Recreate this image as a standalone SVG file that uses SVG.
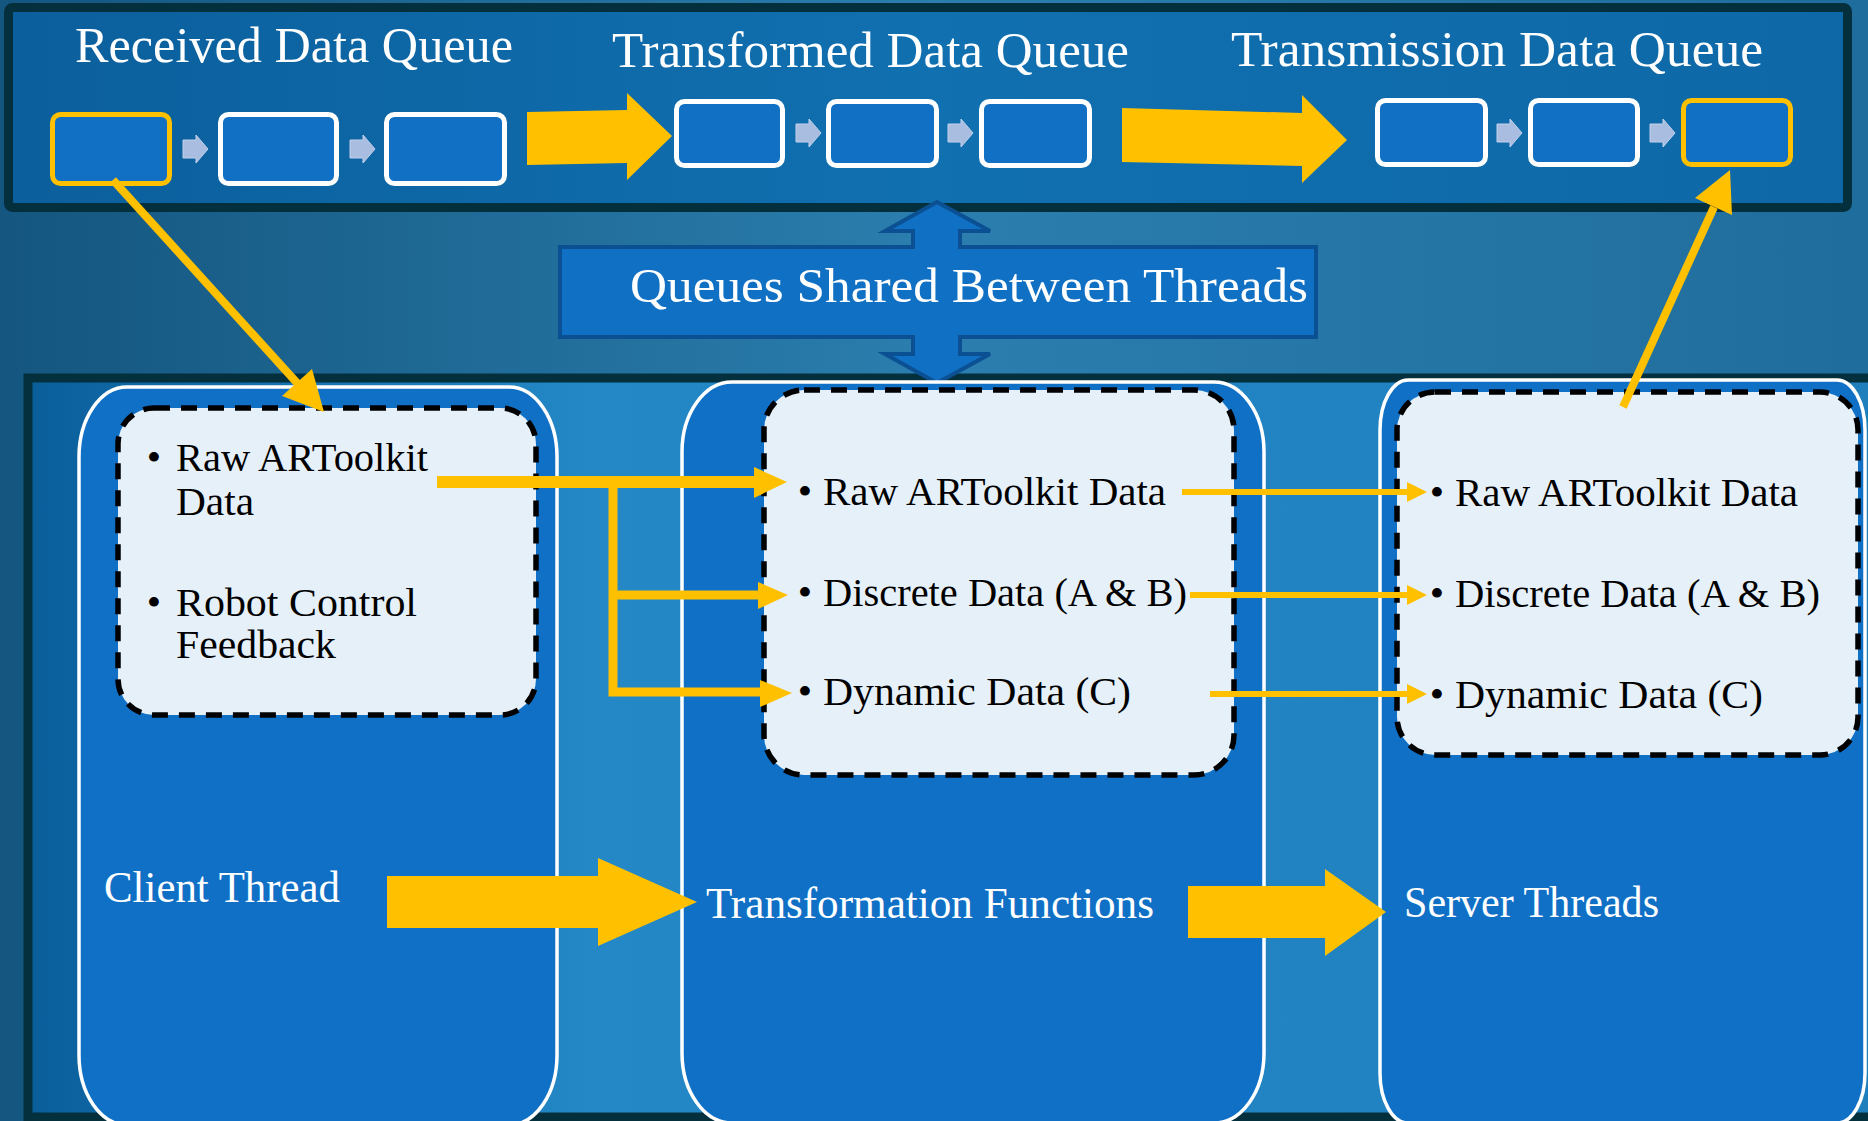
<svg xmlns="http://www.w3.org/2000/svg" xmlns:xlink="http://www.w3.org/1999/xlink" width="1868" height="1121" viewBox="0 0 1868 1121">
<defs>
<linearGradient id="bg" x1="0" y1="0" x2="1" y2="0">
<stop offset="0" stop-color="#14567f"/><stop offset="0.5" stop-color="#2b7eae"/><stop offset="1" stop-color="#1f6d9d"/>
</linearGradient>
<linearGradient id="topfill" x1="0" y1="0" x2="1" y2="0">
<stop offset="0" stop-color="#0b5f9c"/><stop offset="0.5" stop-color="#1170b0"/><stop offset="1" stop-color="#0e68a7"/>
</linearGradient>
<linearGradient id="botfill" x1="0" y1="0" x2="1" y2="0">
<stop offset="0" stop-color="#0a5f9b"/><stop offset="0.3" stop-color="#2488c6"/><stop offset="1" stop-color="#1f7fbd"/>
</linearGradient>
<path id="sa" d="M0,-9 H13 V-14 L25,0 L13,14 V9 H0 Z"/>
<style>
.panel{stroke:#04303e;stroke-width:9}
.qbox{fill:#1170c4;stroke:#fff;stroke-width:5}
.qbox.hl{stroke:#ffc000}
.sarrow{fill:#a9bde0;stroke:#c3d1ec;stroke-width:1}
.col{fill:#1070c6;stroke:#fff;stroke-width:3.5}
.dbox{fill:#e6f0f9;stroke:#000;stroke-width:5.5;stroke-dasharray:16 11}
.yfill{fill:#ffc000}
.yline{stroke:#ffc000;fill:none}
text{font-family:"Liberation Serif","Times New Roman",serif}
.title{fill:#fff;font-size:51px}
.qs{fill:#fff;font-size:48px}
.item{fill:#000;font-size:41px}
.lbl{fill:#fff;font-size:44px}
</style>
</defs>
<rect x="0" y="0" width="1868" height="1121" fill="url(#bg)"/>

<g id="top-panel">
<rect class="panel" x="8.5" y="7.5" width="1839" height="200" rx="4" fill="url(#topfill)"/>
<text class="title" x="75" y="62" textLength="438" lengthAdjust="spacingAndGlyphs">Received Data Queue</text>
<text class="title" x="612" y="67" textLength="517" lengthAdjust="spacingAndGlyphs">Transformed Data Queue</text>
<text class="title" x="1231" y="66" textLength="532" lengthAdjust="spacingAndGlyphs">Transmission Data Queue</text>
</g>

<g id="received-queue">
<rect class="qbox hl" x="52.5" y="114.5" width="117" height="69" rx="8"/>
<use href="#sa" class="sarrow" x="183" y="149"/>
<rect class="qbox" x="220.5" y="114.5" width="116" height="69" rx="8"/>
<use href="#sa" class="sarrow" x="350" y="149"/>
<rect class="qbox" x="386.5" y="114.5" width="118" height="69" rx="8"/>
</g>
<g id="transformed-queue">
<rect class="qbox" x="676.5" y="101.5" width="106" height="64" rx="8"/>
<use href="#sa" class="sarrow" x="796" y="133"/>
<rect class="qbox" x="828.5" y="101.5" width="108" height="64" rx="8"/>
<use href="#sa" class="sarrow" x="948" y="133"/>
<rect class="qbox" x="981.5" y="101.5" width="108" height="64" rx="8"/>
</g>
<g id="transmission-queue">
<rect class="qbox" x="1377.5" y="100.5" width="108" height="64" rx="8"/>
<use href="#sa" class="sarrow" x="1497" y="133"/>
<rect class="qbox" x="1530.5" y="100.5" width="107" height="64" rx="8"/>
<use href="#sa" class="sarrow" x="1650" y="133"/>
<rect class="qbox hl" x="1683.5" y="100.5" width="107" height="64" rx="8"/>
</g>

<g id="bottom-panel">
<rect class="panel" x="28" y="378" width="1860" height="739" fill="url(#botfill)" stroke-width="8"/>
</g>

<g id="shared-queues">
<path d="M560,247 H913 V231 H885 L937,202 L990,231 H960 V247 H1316 V337 H960 V354 H990 L937,383 L885,354 H913 V337 H560 Z" fill="#1070c4" stroke="#0b5092" stroke-width="4"/>
<text class="qs" x="630" y="302" textLength="678" lengthAdjust="spacingAndGlyphs">Queues Shared Between Threads</text>
</g>

<g id="client-thread">
<rect class="col" x="79" y="387" width="478" height="738" rx="48" ry="70"/>
<rect class="dbox" x="118" y="408" width="418" height="307" rx="36"/>
<text class="item" x="154" y="471" text-anchor="middle">•</text>
<text class="item" x="176" y="471" textLength="252" lengthAdjust="spacingAndGlyphs">Raw ARToolkit</text>
<text class="item" x="176" y="515" textLength="78" lengthAdjust="spacingAndGlyphs">Data</text>
<text class="item" x="154" y="616" text-anchor="middle">•</text>
<text class="item" x="176" y="616" textLength="241" lengthAdjust="spacingAndGlyphs">Robot Control</text>
<text class="item" x="176" y="658" textLength="160" lengthAdjust="spacingAndGlyphs">Feedback</text>
<text class="lbl" x="104" y="902" textLength="236" lengthAdjust="spacingAndGlyphs">Client Thread</text>
</g>

<g id="transformation-functions">
<rect class="col" x="682" y="382" width="582" height="741" rx="50" ry="70"/>
<rect class="dbox" x="764" y="390" width="470" height="385" rx="40"/>
<text class="item" x="805" y="505" text-anchor="middle">•</text>
<text class="item" x="823" y="505" textLength="343" lengthAdjust="spacingAndGlyphs">Raw ARToolkit Data</text>
<text class="item" x="805" y="606" text-anchor="middle">•</text>
<text class="item" x="823" y="606" textLength="364" lengthAdjust="spacingAndGlyphs">Discrete Data (A &amp; B)</text>
<text class="item" x="805" y="705" text-anchor="middle">•</text>
<text class="item" x="823" y="705" textLength="308" lengthAdjust="spacingAndGlyphs">Dynamic Data (C)</text>
<text class="lbl" x="706" y="918" textLength="448" lengthAdjust="spacingAndGlyphs">Transformation Functions</text>
</g>

<g id="server-threads">
<rect class="col" x="1380" y="380" width="485" height="743" rx="28" ry="50"/>
<rect class="dbox" x="1397" y="392" width="461" height="363" rx="38"/>
<text class="item" x="1437" y="506" text-anchor="middle">•</text>
<text class="item" x="1455" y="506" textLength="343" lengthAdjust="spacingAndGlyphs">Raw ARToolkit Data</text>
<text class="item" x="1437" y="607" text-anchor="middle">•</text>
<text class="item" x="1455" y="607" textLength="365" lengthAdjust="spacingAndGlyphs">Discrete Data (A &amp; B)</text>
<text class="item" x="1437" y="708" text-anchor="middle">•</text>
<text class="item" x="1455" y="708" textLength="308" lengthAdjust="spacingAndGlyphs">Dynamic Data (C)</text>
<text class="lbl" x="1404" y="917" textLength="255" lengthAdjust="spacingAndGlyphs">Server Threads</text>
</g>

<g id="connectors">
<path class="yfill" d="M527,112 L627,110 L627,93 L672,136 L627,180 L627,163 L527,165 Z"/>
<path class="yfill" d="M1122,108 L1302,113 L1302,95 L1347,140 L1302,183 L1302,166 L1122,162 Z"/>
<line class="yline" x1="113" y1="180" x2="298" y2="384" stroke-width="8"/>
<path class="yfill" d="M324,412 L282,396 L312,369 Z"/>
<line class="yline" x1="1623" y1="407" x2="1714" y2="207" stroke-width="8"/>
<path class="yfill" d="M1730,170 L1732,215 L1695,198 Z"/>
<line class="yline" x1="437" y1="482" x2="756" y2="482" stroke-width="12"/>
<path class="yfill" d="M754,467 L787,482 L754,498 Z"/>
<polyline class="yline" points="613,482 613,692 760,692" stroke-width="9"/>
<line class="yline" x1="613" y1="595" x2="760" y2="595" stroke-width="9"/>
<path class="yfill" d="M758,582 L788,595 L758,609 Z"/>
<path class="yfill" d="M760,680 L792,693 L760,707 Z"/>
<line class="yline" x1="1182" y1="492" x2="1409" y2="492" stroke-width="6"/>
<path class="yfill" d="M1407,482 L1427,492 L1407,502 Z"/>
<line class="yline" x1="1190" y1="595" x2="1409" y2="595" stroke-width="6"/>
<path class="yfill" d="M1407,585 L1427,595 L1407,605 Z"/>
<line class="yline" x1="1210" y1="694" x2="1409" y2="694" stroke-width="6"/>
<path class="yfill" d="M1407,684 L1427,694 L1407,704 Z"/>
<path class="yfill" d="M387,876 L598,876 L598,858 L697,902 L598,946 L598,928 L387,928 Z"/>
<path class="yfill" d="M1188,886 L1325,886 L1325,869 L1386,912 L1325,956 L1325,938 L1188,938 Z"/>
</g>
</svg>
